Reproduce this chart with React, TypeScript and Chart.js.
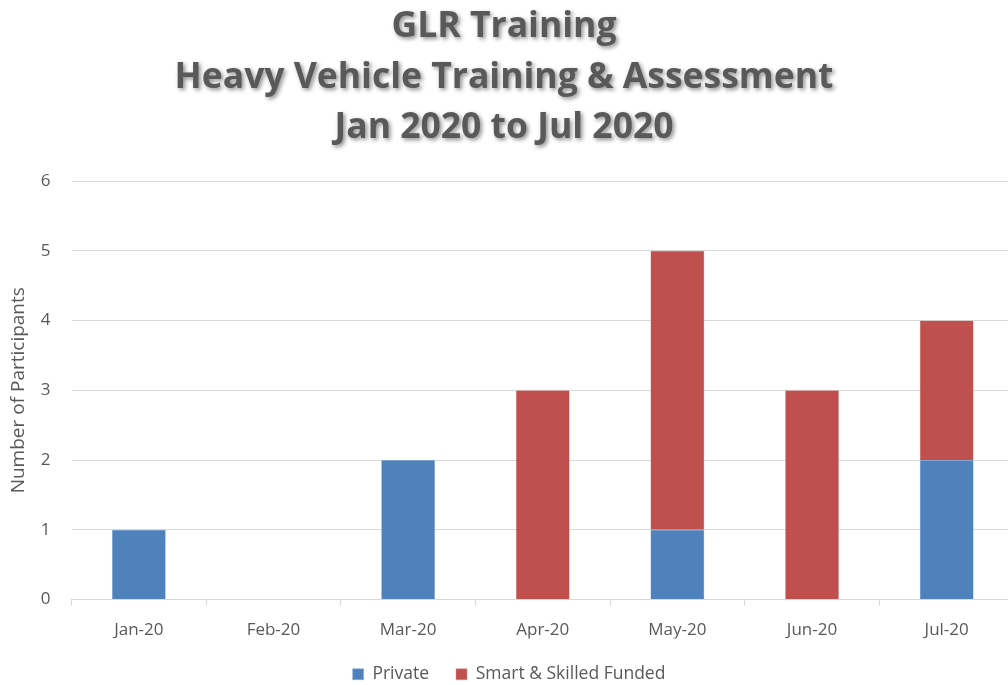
import React, { useEffect, useRef } from 'react';
import { Chart, registerables } from 'chart.js';

Chart.register(...registerables);

const categories = ['Jan-20', 'Feb-20', 'Mar-20', 'Apr-20', 'May-20', 'Jun-20', 'Jul-20'];
const privateValues = [1, 0, 2, 0, 1, 0, 2];
const smartSkilledValues = [0, 0, 0, 3, 4, 3, 2];
const seriesNames = ['Private', 'Smart & Skilled Funded'];
const titleLines = ['GLR Training', 'Heavy Vehicle Training & Assessment', 'Jan 2020 to Jul 2020'];
const yAxisTitle = 'Number of Participants';
const yMin = 0;
const yMax = 6;
const yStep = 1;

const FONT = '"Open Sans", Lato, sans-serif';
const TEXT = '#595959';
const GRID = '#D9D9D9';
const TITLE_SIZE = 35.5;
const TITLE_LINE = 50.5;
const CANVAS_W = 1016;
const CANVAS_H = 693;

const titleShadowPlugin = {
  id: 'titleShadow',
  afterDraw(chart: any) {
    const tb = chart.titleBlock;
    if (!tb) return;
    const ctx = chart.ctx as CanvasRenderingContext2D;
    ctx.save();
    ctx.font = `bold ${TITLE_SIZE}px ${FONT}`;
    ctx.fillStyle = TEXT;
    ctx.textAlign = 'center';
    ctx.textBaseline = 'middle';
    ctx.shadowColor = 'rgba(0,0,0,0.45)';
    ctx.shadowBlur = 4;
    ctx.shadowOffsetX = 2;
    ctx.shadowOffsetY = 2;
    const cx = 504;
    titleLines.forEach((line, i) => {
      ctx.fillText(line, cx, tb.top + TITLE_LINE * (i + 0.5));
    });
    ctx.restore();
  },
};

export default function App() {
  const ref = useRef<HTMLCanvasElement | null>(null);

  useEffect(() => {
    if (!ref.current) return;
    const chart = new Chart(ref.current, {
      type: 'bar',
      data: {
        labels: categories,
        datasets: [
          {
            label: seriesNames[0],
            data: privateValues,
            backgroundColor: '#4F81BD',
            borderColor: '#8EAED8',
            borderWidth: 0.5,
            barPercentage: 0.4,
            categoryPercentage: 1.0,
          },
          {
            label: seriesNames[1],
            data: smartSkilledValues,
            backgroundColor: '#C0504D',
            borderColor: '#DA8E8C',
            borderWidth: 0.5,
            barPercentage: 0.4,
            categoryPercentage: 1.0,
          },
        ],
      },
      options: {
        animation: false,
        responsive: false,
        maintainAspectRatio: false,
        layout: { padding: { top: 2, left: 4, right: 2, bottom: 0 } },
        plugins: {
          title: {
            display: true,
            text: titleLines,
            color: 'rgba(0,0,0,0)',
            font: { family: FONT, size: TITLE_SIZE, weight: 'bold', lineHeight: TITLE_LINE / TITLE_SIZE },
            padding: { top: 0, bottom: 27.5 },
          },
          legend: {
            position: 'bottom',
            labels: {
              color: TEXT,
              font: { family: FONT, size: 17.5 },
              boxWidth: 11,
              boxHeight: 11,
              padding: 27,
            },
          },
          tooltip: { enabled: false },
        },
        scales: {
          x: {
            stacked: true,
            offset: true,
            afterFit(scale: any) {
              scale.height = 39;
            },
            grid: {
              display: true,
              drawOnChartArea: false,
              drawTicks: true,
              tickLength: 6,
              color: GRID,
              offset: true,
            },
            border: { display: true, color: GRID, width: 1 },
            ticks: { color: TEXT, font: { family: FONT, size: 17 }, padding: 14, maxRotation: 0 },
          },
          y: {
            stacked: true,
            min: yMin,
            max: yMax,
            afterFit(scale: any) {
              scale.width = 67.5;
            },
            ticks: { stepSize: yStep, color: TEXT, font: { family: FONT, size: 17 }, padding: 21 },
            grid: { color: GRID, drawTicks: false, lineWidth: 1 },
            border: { display: false },
            title: {
              display: true,
              text: yAxisTitle,
              color: TEXT,
              font: { family: FONT, size: 19 },
              padding: { top: 3, bottom: 4 },
            },
          },
        },
      },
      plugins: [titleShadowPlugin],
    });
    return () => chart.destroy();
  }, []);

  return (
    <div
      style={{
        position: 'fixed',
        left: 0,
        top: 0,
        width: 1008,
        height: 685,
        overflow: 'hidden',
        background: '#ffffff',
      }}
    >
      <canvas
        ref={ref}
        width={CANVAS_W}
        height={CANVAS_H}
        style={{ display: 'block', width: CANVAS_W, height: CANVAS_H }}
      />
    </div>
  );
}
